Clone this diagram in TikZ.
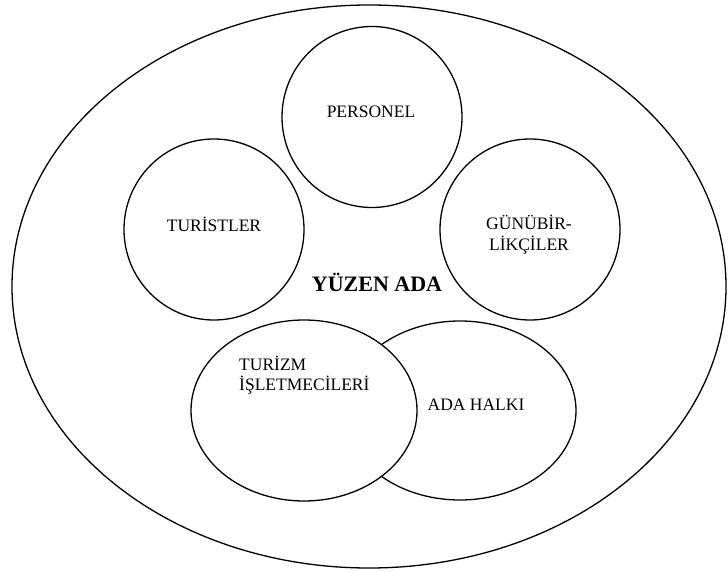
\documentclass[tikz,border=0pt]{standalone}
\usepackage{fontspec}
\setmainfont{Liberation Serif}
\usetikzlibrary{shapes.geometric}
\begin{document}
\begin{tikzpicture}[x=1pt,y=-1pt,
  blob/.style={draw=black, line width=1.3pt, ellipse, inner sep=0pt, fill=white},
  lbl/.style={inner sep=0pt, font=\fontsize{17.5}{20.5}\selectfont}]
\useasboundingbox (0,0) rectangle (728,572);
\node[blob, minimum width=714pt, minimum height=563pt] (outer) at (369,286.5) {};
\node[blob, minimum width=180pt, minimum height=181pt] (personel) at (372,117) {};
\node[blob, minimum width=180pt, minimum height=181pt] (turistler) at (214,229.5) {};
\node[blob, minimum width=180pt, minimum height=181pt] (gunubir) at (530,229.5) {};
\node[blob, minimum width=232pt, minimum height=179pt] (halki) at (460,410.5) {};
\node[blob, minimum width=226pt, minimum height=181pt] (turizm) at (304,410.5) {};
\node[lbl] (tp) at (371,112) {PERSONEL};
\node[lbl] (tt) at (214,224) {TURİSTLER};
\node[lbl, align=center] (tg) at (529,234.5) {GÜNÜBİR-\\LİKÇİLER};
\node[lbl, font=\fontsize{22}{26}\selectfont\bfseries] (ty) at (377,282) {YÜZEN ADA};
\node[lbl, align=left, anchor=west] (tz) at (239,375) {TURİZM\\İŞLETMECİLERİ};
\node[lbl] (th) at (476,405) {ADA HALKI};
\end{tikzpicture}
\end{document}
